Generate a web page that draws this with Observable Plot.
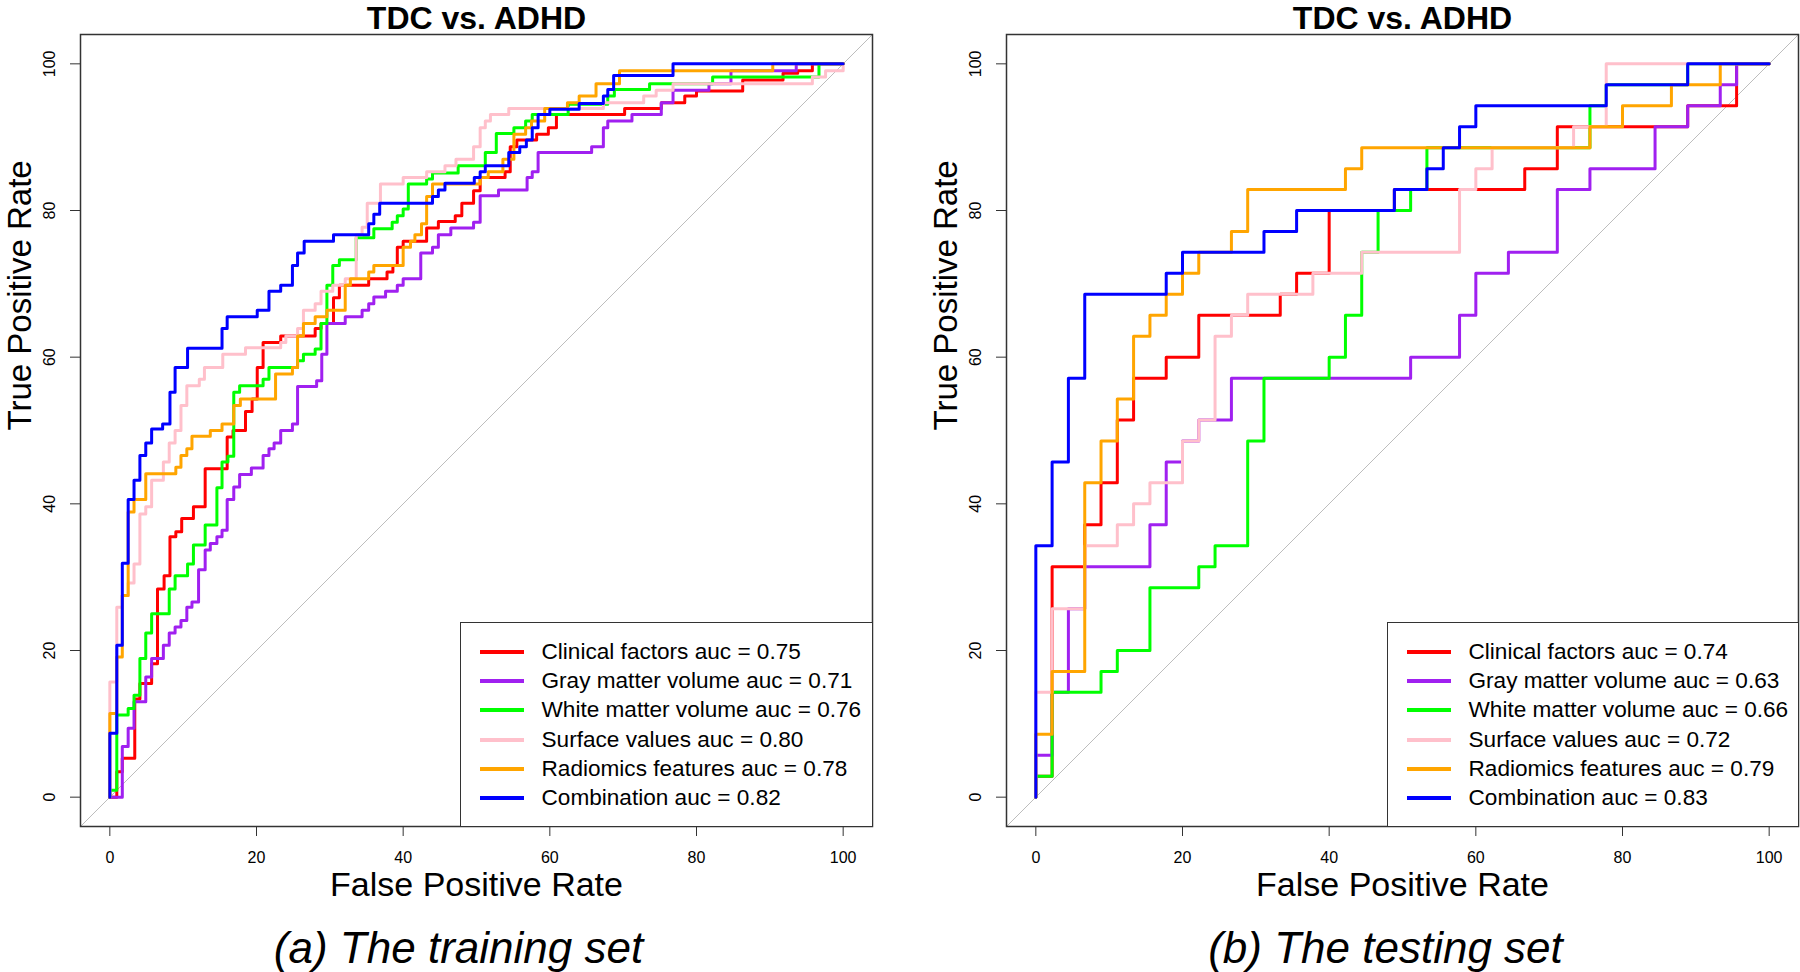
<!DOCTYPE html>
<html><head><meta charset="utf-8">
<script src="https://cdn.jsdelivr.net/npm/d3@7"></script>
<script src="https://cdn.jsdelivr.net/npm/@observablehq/plot@0.6"></script>
<style>
html,body{margin:0;padding:0;background:#fff;}
#root{position:relative;width:1800px;height:972px;overflow:hidden;font-family:"Liberation Sans",Arial,sans-serif;}
.panel{position:absolute;top:0;}
.legend{position:absolute;box-sizing:border-box;border:1.5px solid #333;background:#fff;padding-top:14px;}
.row{display:flex;align-items:center;height:29.3px;}
.swatch{width:44px;height:4px;margin-left:18.5px;margin-right:18px;flex:none;}
.label{font-size:22.6px;color:#000;white-space:nowrap;}
</style></head>
<body><div id="root"></div>
<script>
const seriesNames = ["Clinical factors","Gray matter volume","White matter volume","Surface values","Radiomics features","Combination"];
const seriesColors = ["#FF0000","#A020F0","#00FF00","#FFC0CB","#FFA500","#0000FF"];
const trainAuc = ["0.75","0.71","0.76","0.80","0.78","0.82"];
const testAuc = ["0.74","0.63","0.66","0.72","0.79","0.83"];
const xTicks = [0,20,40,60,80,100];
const yTicks = [0,20,40,60,80,100];
const axisDomain = [-4,104];
const panelTitle = "TDC vs. ADHD";
const xLabel = "False Positive Rate";
const yLabel = "True Positive Rate";
const captions = ["(a) The training set","(b) The testing set"];

// ---- training set ROC vertices [FPR %, TPR %] ----
const trainRed = [[0,0],[0.95,0],[0.95,3.45],[1.7,3.45],[1.7,5.3],[3.4,5.3],[3.4,13.4],[4.1,13.4],[4.1,15.5],[5.7,15.5],[5.7,18.2],[6.5,18.2],[6.5,28.4],[7.4,28.4],[7.4,30.2],[8.2,30.2],[8.2,35.5],[9,35.5],[9,36.2],[9.8,36.2],[9.8,38],[11.4,38],[11.4,39.6],[13,39.6],[13,44.8],[16,44.8],[16,49.1],[16.8,49.1],[16.8,50],[18.5,50],[18.5,52.6],[19.4,52.6],[19.4,54.3],[20.1,54.3],[20.1,58.6],[20.9,58.6],[20.9,62],[23.3,62],[23.3,62.9],[28,62.9],[28,63.9],[28.8,63.9],[28.8,64.6],[30.5,64.6],[30.5,68.1],[31.3,68.1],[31.3,69.8],[35.3,69.8],[35.3,70.7],[37.8,70.7],[37.8,71.6],[38.6,71.6],[38.6,72.5],[39.2,72.5],[39.2,75],[40,75],[40,75.8],[43.2,75.8],[43.2,77.6],[44.8,77.6],[44.8,78.5],[47.1,78.5],[47.1,79.3],[48,79.3],[48,81],[49.6,81],[49.6,82.7],[50.5,82.7],[50.5,84.5],[53.9,84.5],[53.9,85.3],[54.6,85.3],[54.6,88.7],[55.5,88.7],[55.5,89.6],[58.2,89.6],[58.2,90.4],[59.8,90.4],[59.8,91.3],[60.9,91.3],[60.9,93.1],[70.2,93.1],[70.2,93.9],[75.2,93.9],[75.2,94.7],[78.4,94.7],[78.4,95.6],[80,95.6],[80,96.3],[86.3,96.3],[86.3,97.8],[91.8,97.8],[91.8,98.7],[93.8,98.7],[93.8,99.05],[95.8,99.05],[95.8,100],[100,100]];
const trainPurple = [[0,0],[1.7,0],[1.7,6.9],[2.5,6.9],[2.5,9.4],[3.3,9.4],[3.3,13],[4.9,13],[4.9,16.4],[5.7,16.4],[5.7,18.9],[7.3,18.9],[7.3,20.7],[8.1,20.7],[8.1,22.4],[8.9,22.4],[8.9,23.2],[9.7,23.2],[9.7,24.1],[10.5,24.1],[10.5,25.9],[11.2,25.9],[11.2,26.6],[12.1,26.6],[12.1,31],[13,31],[13,33.7],[13.7,33.7],[13.7,34.6],[14.6,34.6],[14.6,35.5],[15.3,35.5],[15.3,36.4],[16,36.4],[16,40.6],[16.9,40.6],[16.9,42.3],[17.7,42.3],[17.7,44],[19.3,44],[19.3,44.9],[20.9,44.9],[20.9,46.6],[21.7,46.6],[21.7,47.5],[22.4,47.5],[22.4,48.3],[23.3,48.3],[23.3,50],[24.9,50],[24.9,50.9],[25.6,50.9],[25.6,56],[28.2,56],[28.2,56.8],[28.9,56.8],[28.9,60.4],[29.6,60.4],[29.6,64.6],[32.1,64.6],[32.1,65.5],[34.4,65.5],[34.4,66.4],[35.3,66.4],[35.3,67.3],[36,67.3],[36,68.2],[37.6,68.2],[37.6,69],[39.2,69],[39.2,69.8],[40,69.8],[40,70.7],[42.4,70.7],[42.4,74.2],[44,74.2],[44,75],[44.8,75],[44.8,76.7],[46.5,76.7],[46.5,77.6],[49.6,77.6],[49.6,78.4],[50.5,78.4],[50.5,82],[53,82],[53,82.8],[56.9,82.8],[56.9,84.5],[57.6,84.5],[57.6,85.3],[58.4,85.3],[58.4,87.9],[65.7,87.9],[65.7,88.7],[67.3,88.7],[67.3,91.3],[67.9,91.3],[67.9,92.2],[71.2,92.2],[71.2,93.1],[75.2,93.1],[75.2,94.7],[76.8,94.7],[76.8,96.4],[81.7,96.4],[81.7,97.3],[84.7,97.3],[84.7,99.05],[93.6,99.05],[93.6,100],[100,100]];
const trainGreen = [[0,0],[0,0.95],[0.95,0.95],[0.95,11.2],[2.5,11.2],[2.5,12.1],[3.3,12.1],[3.3,13.9],[4.1,13.9],[4.1,18.9],[4.9,18.9],[4.9,22.4],[5.7,22.4],[5.7,25],[8.1,25],[8.1,28.4],[8.9,28.4],[8.9,30.2],[10.6,30.2],[10.6,31.8],[11.4,31.8],[11.4,34.4],[13,34.4],[13,37.1],[14.6,37.1],[14.6,42.2],[15.3,42.2],[15.3,45.7],[16.1,45.7],[16.1,46.5],[16.9,46.5],[16.9,55.2],[17.7,55.2],[17.7,56.1],[20.9,56.1],[20.9,57],[21.7,57],[21.7,58.6],[25.6,58.6],[25.6,59.5],[26.4,59.5],[26.4,60.4],[28,60.4],[28,61.1],[28.8,61.1],[28.8,64.6],[29.6,64.6],[29.6,69.8],[30.4,69.8],[30.4,72.5],[31.3,72.5],[31.3,73.3],[33.6,73.3],[33.6,76.3],[36,76.3],[36,77.5],[38.5,77.5],[38.5,78.4],[39.2,78.4],[39.2,79.3],[40,79.3],[40,80.2],[40.7,80.2],[40.7,83.6],[43.2,83.6],[43.2,84.3],[44,84.3],[44,85.1],[47.5,85.1],[47.5,86.1],[51.2,86.1],[51.2,87.9],[52.7,87.9],[52.7,90.5],[55.1,90.5],[55.1,91.3],[56.7,91.3],[56.7,92.2],[57.6,92.2],[57.6,93.1],[62.5,93.1],[62.5,94.5],[67.9,94.5],[67.9,95.6],[68.8,95.6],[68.8,96.5],[73.6,96.5],[73.6,97.3],[82.2,97.3],[82.2,98.2],[96.7,98.2],[96.7,100],[100,100]];
const trainPink = [[0,0],[0,15.7],[0.95,15.7],[0.95,25.9],[1.7,25.9],[1.7,27.5],[2.5,27.5],[2.5,29.2],[3.3,29.2],[3.3,31.8],[4.1,31.8],[4.1,38.6],[4.9,38.6],[4.9,39.6],[5.7,39.6],[5.7,43.2],[7.3,43.2],[7.3,45.7],[8.1,45.7],[8.1,48.3],[8.9,48.3],[8.9,50],[9.7,50],[9.7,53.4],[10.5,53.4],[10.5,56.1],[12.2,56.1],[12.2,57],[12.9,57],[12.9,58.6],[15.4,58.6],[15.4,60.4],[18.5,60.4],[18.5,61.3],[23.3,61.3],[23.3,62],[24,62],[24,62.9],[25.6,62.9],[25.6,63.9],[26.4,63.9],[26.4,66.4],[28,66.4],[28,67.3],[28.8,67.3],[28.8,69],[30.4,69],[30.4,69.8],[32.1,69.8],[32.1,70.7],[33.6,70.7],[33.6,76.7],[34.4,76.7],[34.4,77.7],[35.1,77.7],[35.1,81],[36.9,81],[36.9,83.6],[40,83.6],[40,84.5],[43.2,84.5],[43.2,85.3],[45.7,85.3],[45.7,86.1],[47.2,86.1],[47.2,87],[49.6,87],[49.6,88.7],[50.5,88.7],[50.5,91.3],[51.2,91.3],[51.2,92.2],[51.9,92.2],[51.9,93.1],[54.4,93.1],[54.4,93.9],[67.3,93.9],[67.3,94.7],[72.8,94.7],[72.8,95.6],[74.5,95.6],[74.5,96.4],[76.8,96.4],[76.8,97.3],[95.8,97.3],[95.8,98.2],[97.6,98.2],[97.6,99.05],[100,99.05],[100,100]];
const trainOrange = [[0,0],[0,11.4],[0.95,11.4],[0.95,19.1],[1.7,19.1],[1.7,27.5],[2.5,27.5],[2.5,38.9],[3.3,38.9],[3.3,40.6],[4.9,40.6],[4.9,44.1],[9,44.1],[9,45],[9.7,45],[9.7,46.6],[10.5,46.6],[10.5,47.5],[11.2,47.5],[11.2,49.2],[13.7,49.2],[13.7,50],[15.3,50],[15.3,50.9],[16.9,50.9],[16.9,53.4],[17.8,53.4],[17.8,54.3],[22.6,54.3],[22.6,57.7],[24.9,57.7],[24.9,58.6],[25.6,58.6],[25.6,62.9],[26.4,62.9],[26.4,64.6],[28,64.6],[28,65.5],[29.6,65.5],[29.6,66.4],[32.1,66.4],[32.1,69.8],[32.8,69.8],[32.8,70.7],[35.3,70.7],[35.3,71.6],[36,71.6],[36,72.5],[40,72.5],[40,75],[41,75],[41,75.8],[41.6,75.8],[41.6,76.7],[42.5,76.7],[42.5,78.2],[43.2,78.2],[43.2,81.9],[44,81.9],[44,83.6],[50.5,83.6],[50.5,84.5],[51.6,84.5],[51.6,85.3],[53.6,85.3],[53.6,87],[55.1,87],[55.1,90.4],[56.7,90.4],[56.7,91.3],[57.5,91.3],[57.5,92.2],[59.3,92.2],[59.3,93.9],[62.4,93.9],[62.4,94.7],[64,94.7],[64,95.6],[66.3,95.6],[66.3,97.3],[69.5,97.3],[69.5,99.05],[90.4,99.05],[90.4,100],[100,100]];
const trainBlue = [[0,0],[0,8.7],[0.95,8.7],[0.95,20.7],[1.7,20.7],[1.7,31.9],[2.5,31.9],[2.5,40.6],[3.3,40.6],[3.3,43.2],[4.1,43.2],[4.1,46.6],[4.9,46.6],[4.9,48.3],[5.7,48.3],[5.7,50.2],[7.2,50.2],[7.2,50.9],[8.2,50.9],[8.2,55.2],[8.9,55.2],[8.9,58.6],[10.6,58.6],[10.6,61.2],[15.3,61.2],[15.3,63.9],[16,63.9],[16,65.5],[20.1,65.5],[20.1,66.4],[21.7,66.4],[21.7,69],[23.3,69],[23.3,69.8],[24.9,69.8],[24.9,72.5],[25.6,72.5],[25.6,74.2],[26.5,74.2],[26.5,75.8],[30.5,75.8],[30.5,76.7],[35.3,76.7],[35.3,78.2],[36,78.2],[36,79.5],[36.8,79.5],[36.8,81],[44,81],[44,81.9],[44.8,81.9],[44.8,82.8],[45.7,82.8],[45.7,83.7],[49.7,83.7],[49.7,84.5],[50.5,84.5],[50.5,85.3],[51.2,85.3],[51.2,86.1],[54.4,86.1],[54.4,87.9],[55.9,87.9],[55.9,88.7],[56.8,88.7],[56.8,89.6],[57.6,89.6],[57.6,91.3],[58.4,91.3],[58.4,93.1],[60,93.1],[60,93.8],[64,93.8],[64,94.6],[67.3,94.6],[67.3,95.6],[67.9,95.6],[67.9,96.5],[68.7,96.5],[68.7,98.4],[76.8,98.4],[76.8,100],[100,100]];

// ---- testing set ROC vertices [FPR %, TPR %] ----
const testRed = [[0,0],[0,2.86],[2.22,2.86],[2.22,31.43],[6.67,31.43],[6.67,37.14],[8.89,37.14],[8.89,42.86],[11.11,42.86],[11.11,51.43],[13.33,51.43],[13.33,57.14],[17.78,57.14],[17.78,60],[22.22,60],[22.22,65.71],[33.33,65.71],[33.33,68.57],[35.56,68.57],[35.56,71.43],[40,71.43],[40,80],[48.89,80],[48.89,82.86],[66.67,82.86],[66.67,85.71],[71.11,85.71],[71.11,91.43],[88.89,91.43],[88.89,94.29],[95.56,94.29],[95.56,100],[100,100]];
const testPurple = [[0,0],[0,5.71],[2.22,5.71],[2.22,14.29],[4.44,14.29],[4.44,25.71],[6.67,25.71],[6.67,31.43],[15.56,31.43],[15.56,37.14],[17.78,37.14],[17.78,45.71],[20,45.71],[20,48.57],[22.22,48.57],[22.22,51.43],[26.67,51.43],[26.67,57.14],[51.11,57.14],[51.11,60],[57.78,60],[57.78,65.71],[60,65.71],[60,71.43],[64.44,71.43],[64.44,74.29],[71.11,74.29],[71.11,82.86],[75.56,82.86],[75.56,85.71],[84.44,85.71],[84.44,91.43],[88.89,91.43],[88.89,94.29],[93.33,94.29],[93.33,97.14],[95.56,97.14],[95.56,100],[100,100]];
const testGreen = [[0,0],[0,2.86],[2.22,2.86],[2.22,14.29],[8.89,14.29],[8.89,17.14],[11.11,17.14],[11.11,20],[15.56,20],[15.56,28.57],[22.22,28.57],[22.22,31.43],[24.44,31.43],[24.44,34.29],[28.89,34.29],[28.89,48.57],[31.11,48.57],[31.11,57.14],[40,57.14],[40,60],[42.22,60],[42.22,65.71],[44.44,65.71],[44.44,74.29],[46.67,74.29],[46.67,80],[51.11,80],[51.11,82.86],[53.33,82.86],[53.33,88.57],[75.56,88.57],[75.56,94.29],[77.78,94.29],[77.78,97.14],[88.89,97.14],[88.89,100],[100,100]];
const testPink = [[0,0],[0,14.29],[2.22,14.29],[2.22,25.71],[6.67,25.71],[6.67,34.29],[11.11,34.29],[11.11,37.14],[13.33,37.14],[13.33,40],[15.56,40],[15.56,42.86],[20,42.86],[20,48.57],[22.22,48.57],[22.22,51.43],[24.44,51.43],[24.44,62.86],[26.67,62.86],[26.67,65.71],[28.89,65.71],[28.89,68.57],[37.78,68.57],[37.78,71.43],[44.44,71.43],[44.44,74.29],[57.78,74.29],[57.78,82.86],[60,82.86],[60,85.71],[62.22,85.71],[62.22,88.57],[73.33,88.57],[73.33,91.43],[77.78,91.43],[77.78,100],[100,100]];
const testOrange = [[0,0],[0,8.57],[2.22,8.57],[2.22,17.14],[6.67,17.14],[6.67,42.86],[8.89,42.86],[8.89,48.57],[11.11,48.57],[11.11,54.29],[13.33,54.29],[13.33,62.86],[15.56,62.86],[15.56,65.71],[17.78,65.71],[17.78,68.57],[20,68.57],[20,71.43],[22.22,71.43],[22.22,74.29],[26.67,74.29],[26.67,77.14],[28.89,77.14],[28.89,82.86],[42.22,82.86],[42.22,85.71],[44.44,85.71],[44.44,88.57],[75.56,88.57],[75.56,91.43],[80,91.43],[80,94.29],[86.67,94.29],[86.67,97.14],[93.33,97.14],[93.33,100],[100,100]];
const testBlue = [[0,0],[0,34.29],[2.22,34.29],[2.22,45.71],[4.44,45.71],[4.44,57.14],[6.67,57.14],[6.67,68.57],[17.78,68.57],[17.78,71.43],[20,71.43],[20,74.29],[31.11,74.29],[31.11,77.14],[35.56,77.14],[35.56,80],[48.89,80],[48.89,82.86],[53.33,82.86],[53.33,85.71],[55.56,85.71],[55.56,88.57],[57.78,88.57],[57.78,91.43],[60,91.43],[60,94.29],[77.78,94.29],[77.78,97.14],[88.89,97.14],[88.89,100],[100,100]];

const trainCurves = [trainRed, trainPurple, trainGreen, trainPink, trainOrange, trainBlue];
const testCurves = [testRed, testPurple, testGreen, testPink, testOrange, testBlue];

const panels = [
  {curves: trainCurves, auc: trainAuc, caption: captions[0], left: 0, marginLeft: 80, marginRight: 28, captionDx: -18, legendLeft: 460},
  {curves: testCurves, auc: testAuc, caption: captions[1], left: 900, marginLeft: 106, marginRight: 2, captionDx: -17, legendLeft: 1387}
];

const root = document.getElementById("root");
const W = 900, H = 972, MT = 34, MB = 146;

panels.forEach(p => {
  const chart = Plot.plot({
    width: W, height: H,
    marginLeft: p.marginLeft, marginRight: p.marginRight, marginTop: MT, marginBottom: MB,
    x: {domain: axisDomain},
    y: {domain: axisDomain},
    style: {fontFamily: "'Liberation Sans', Arial, sans-serif", color: "#000", background: "#fff", fontSize: "16px"},
    marks: [
      Plot.line(axisDomain, {x: d => d, y: d => d, stroke: "#bdbdbd", strokeWidth: 1}),
      ...p.curves.map((c, i) => Plot.line(c, {x: d => d[0], y: d => d[1], stroke: seriesColors[i], strokeWidth: 3})),
      Plot.frame({stroke: "#333", strokeWidth: 1.5}),
      Plot.axisX(xTicks, {tickSize: 10, tickPadding: 15, fontSize: 16, label: null, stroke: "#333"}),
      Plot.axisY(yTicks, {tickSize: 10, tickPadding: 15.5, tickRotate: -90, fontSize: 16, label: null, stroke: "#333"}),
      Plot.text([panelTitle], {text: d => d, frameAnchor: "top", dy: -5.5, lineAnchor: "bottom", fontSize: 32, fontWeight: "bold"}),
      Plot.text([xLabel], {text: d => d, frameAnchor: "bottom", dy: 69, lineAnchor: "bottom", fontSize: 34}),
      Plot.text([yLabel], {text: d => d, frameAnchor: "left", dx: -50, rotate: -90, lineAnchor: "bottom", fontSize: 33}),
      Plot.text([p.caption], {text: d => d, frameAnchor: "bottom", dy: 136, dx: p.captionDx, lineAnchor: "bottom", fontSize: 44, fontStyle: "italic"})
    ]
  });
  const wrap = document.createElement("div");
  wrap.className = "panel";
  wrap.style.left = p.left + "px";
  wrap.appendChild(chart);
  root.appendChild(wrap);

  const legend = document.createElement("div");
  legend.className = "legend";
  const frameRight = p.left + W - p.marginRight;
  legend.style.left = p.legendLeft + "px";
  legend.style.top = "622px";
  legend.style.width = (frameRight - p.legendLeft + 1) + "px";
  legend.style.height = (H - MB - 622 + 1) + "px";
  seriesNames.forEach((name, i) => {
    const row = document.createElement("div");
    row.className = "row";
    const sw = document.createElement("div");
    sw.className = "swatch";
    sw.style.background = seriesColors[i];
    const lb = document.createElement("div");
    lb.className = "label";
    lb.textContent = name + " auc = " + p.auc[i];
    row.appendChild(sw); row.appendChild(lb);
    legend.appendChild(row);
  });
  root.appendChild(legend);
});
</script></body></html>
